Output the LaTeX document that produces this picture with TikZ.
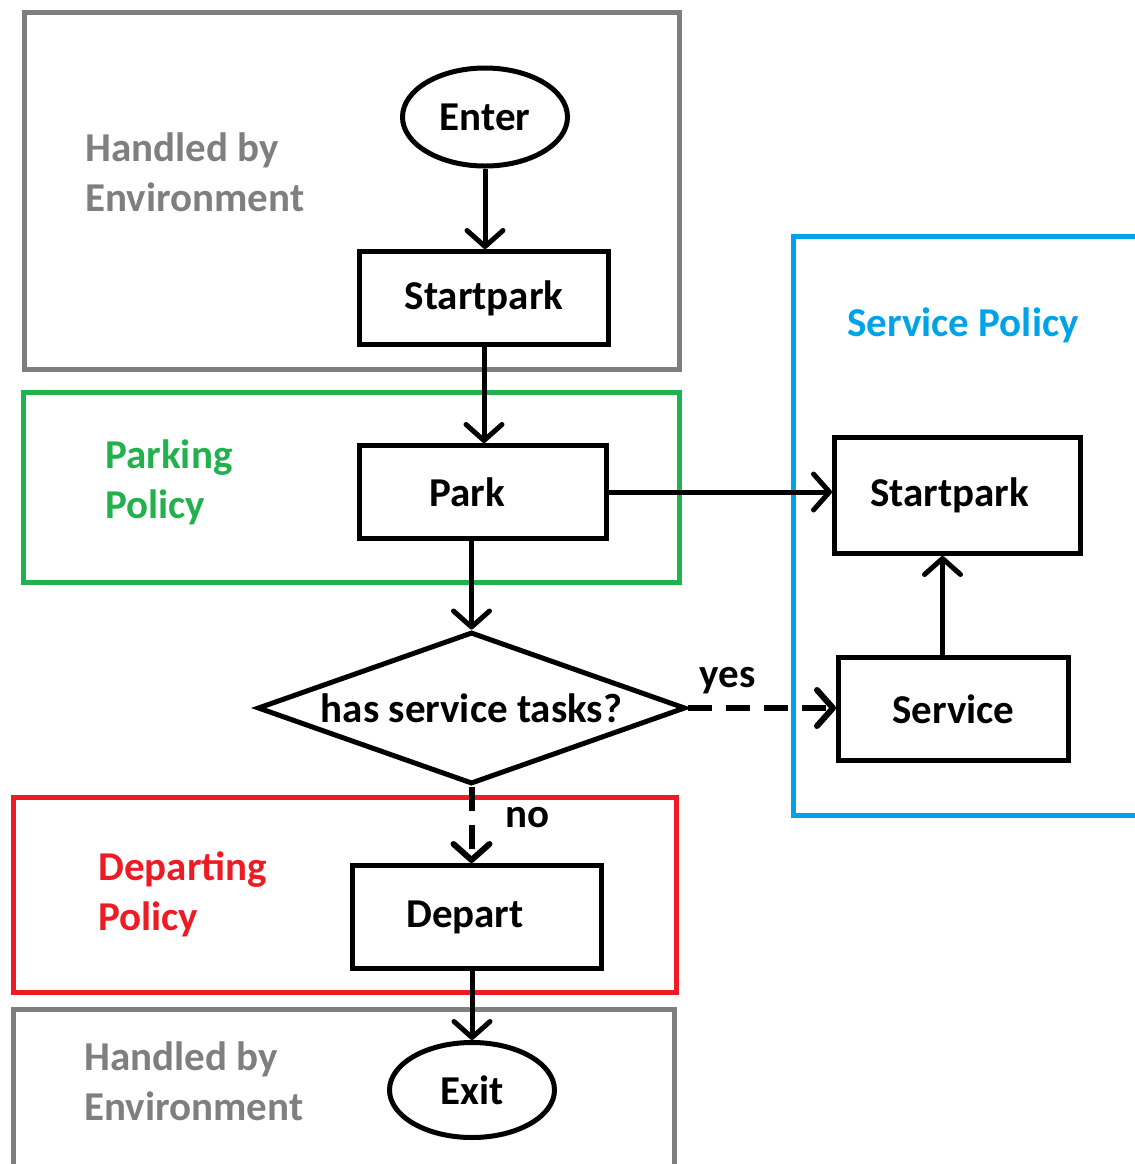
\documentclass[tikz,border=0pt]{standalone}
\usepackage{fontspec}
\setmainfont{Carlito}
\usetikzlibrary{arrows.meta,shapes.geometric,calc}
\definecolor{envgray}{HTML}{7F7F7F}
\definecolor{parkgreen}{HTML}{22B14C}
\definecolor{servblue}{HTML}{00A2E8}
\definecolor{departred}{HTML}{ED1C24}
\begin{document}
\begin{tikzpicture}[x=0.5pt,y=-0.5pt,
  txt/.style={font=\bfseries\fontsize{20.5}{25}\selectfont},
  frame/.style={line width=2.5pt},
  grouplabel/.style={txt,anchor=west,align=left,inner sep=0pt},
  stepbox/.style={txt,draw,line width=2.5pt,rectangle,inner sep=0pt},
  terminal/.style={txt,draw,line width=2.5pt,ellipse,inner sep=0pt},
  decision/.style={txt,draw,line width=2.5pt,diamond,aspect=2.8,inner sep=0pt},
  arr/.style={line width=2.5pt,-{Straight Barb[length=8pt,width=18pt,line cap=round,round]}},
  dsh/.style={line width=3pt,dash pattern=on 12pt off 7pt}]
\useasboundingbox (0,0) rectangle (1135,1164);
\clip (0,0) rectangle (1135,1164);

% group frames
\draw[frame,envgray] (24.5,12.5) rectangle (679.5,369.5);
\draw[frame,parkgreen] (23.5,392.5) rectangle (679.5,582.5);
\draw[frame,servblue] (793.5,236.5) rectangle (1150,815.5);
\draw[frame,departred] (13.5,797.5) rectangle (676.5,992.5);
\draw[frame,envgray] (13.5,1009.5) rectangle (674.5,1180);

% group labels
\node[grouplabel,envgray] (lenvtop) at (85,172) {Handled by\\Environment};
\node[grouplabel,parkgreen] (lpark) at (105,482) {Parking\\Policy};
\node[txt,servblue,inner sep=0pt] (lserv) at (963,325) {Service Policy};
\node[grouplabel,departred] (ldep) at (98,894) {Departing\\Policy};
\node[grouplabel,envgray] (lenvbot) at (84,1081) {Handled by\\Environment};

% flow nodes
\node[terminal,minimum width=82.5pt,minimum height=49pt] (enter) at (485,117) {Enter};
\node[stepbox,minimum width=124.5pt,minimum height=46.5pt] (sp1) at (484,298) {Startpark};
\node[stepbox,minimum width=123.5pt,minimum height=46.5pt] (park) at (483,492) {\hspace*{-16pt}Park};
\node[stepbox,minimum width=123pt,minimum height=58pt] (sp2) at (957.5,495.5) {\hspace*{-8pt}Startpark};
\node[stepbox,minimum width=115pt,minimum height=51.5pt] (svc) at (953.5,709) {Service};
\node[decision,minimum width=214pt,minimum height=76pt] (dia) at (471.5,708) {has service tasks?};
\node[stepbox,minimum width=124.5pt,minimum height=51.5pt] (dep) at (477,917) {\hspace*{-12pt}Depart};
\node[terminal,minimum width=82.5pt,minimum height=47.5pt] (exit) at (472,1090) {Exit};

% connectors
\draw[arr] (enter.south) -- (enter.south |- sp1.north);
\draw[arr] (sp1.south) -- (sp1.south |- park.north);
\draw[arr] (park.south -| dia.north) -- (dia.north);
\draw[arr] (park.east) -- (park.east -| sp2.west);
\draw[arr] ([xshift=-5.5]svc.north) -- ([xshift=-5.5]svc.north |- sp2.south);
\draw[arr,dsh] (dia.east) -- (dia.east -| svc.west)
  node[txt,pos=0.27,above=2pt] (yes) {yes};
\draw[arr,dsh] (dia.south) -- (dia.south |- dep.north)
  node[txt,pos=0.4,right=12pt] (no) {no};
\draw[arr] (dep.south -| exit.north) -- (exit.north);
\end{tikzpicture}
\end{document}
